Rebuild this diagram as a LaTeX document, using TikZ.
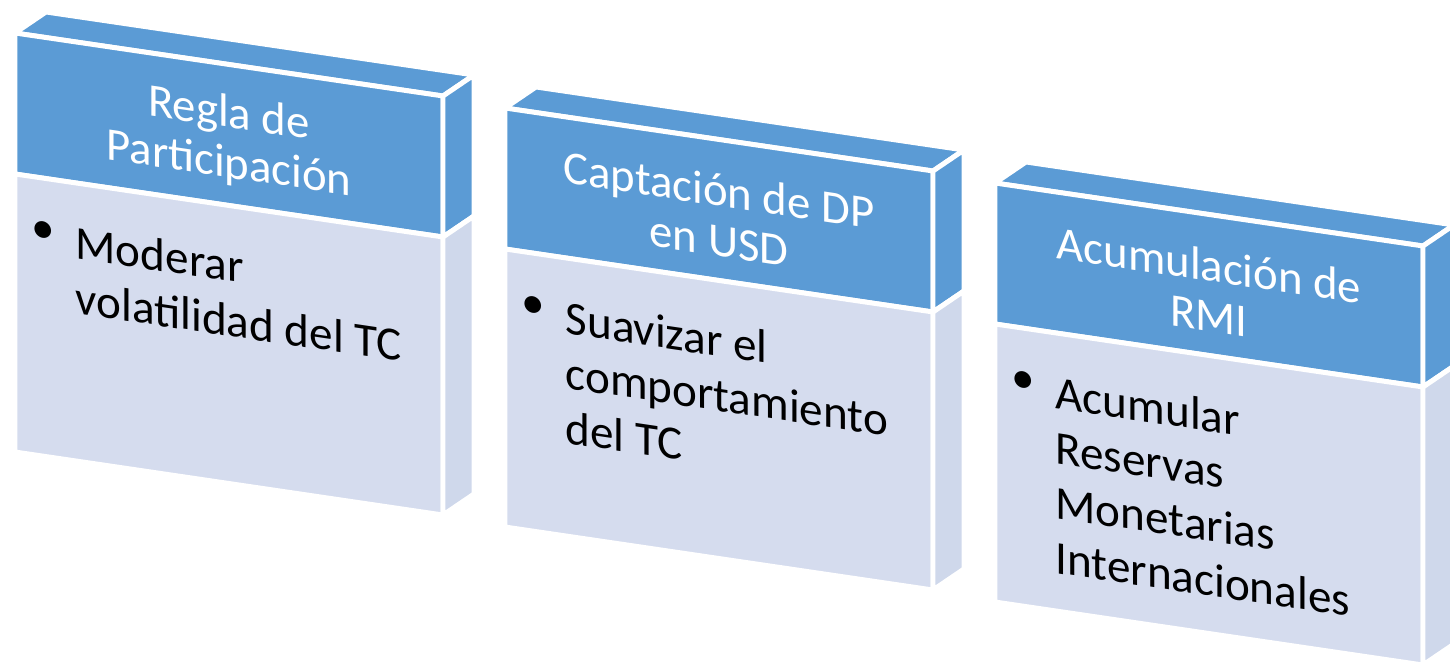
\documentclass[tikz,border=0pt]{standalone}
\usepackage{fontspec}
\setmainfont{Carlito}
\definecolor{cabecera}{HTML}{5B9BD5}
\definecolor{cuerpo}{HTML}{D5DCEE}
\definecolor{lateral}{HTML}{CFD8EB}
\tikzset{
  cara/.style={draw=white, line width=1.4pt, line join=round},
  titulo/.style={text=white, align=center, inner sep=0pt, yslant=-0.148, font=\fontsize{13.3}{14.3}\selectfont},
  vineta/.style={anchor=base, inner sep=0pt, yslant=-0.148, font=\fontsize{13.4}{15.6}\selectfont},
  texto/.style={anchor=north west, align=left, inner sep=0pt, yslant=-0.148, font=\fontsize{13.4}{15.6}\selectfont}
}
\begin{document}
\begin{tikzpicture}[x=0.01cm, y=-0.01cm]
\useasboundingbox (0,0) rectangle (1450,664);
\clip (0,0) rectangle (1450,664);

\foreach \i/\cab/\txt in {0/{Regla de\\Participación}/{Moderar\\volatilidad del TC},
  1/{Captación de DP\\en USD}/{Suavizar el\\comportamiento\\del TC},
  2/{Acumulación de\\RMI}/{Acumular\\Reservas\\Monetarias\\Internacionales}}{
\begin{scope}[shift={(15+490*\i, 33+75*\i)}]
\fill[fill=cabecera, cara] (0,0) -- (428,63) -- (459,42) -- (31,-21) -- cycle;
\fill[fill=cabecera, cara] (0,0) -- (428,63) -- (428,204) -- (0,141) -- cycle;
\fill[fill=cuerpo, cara] (0,141) -- (428,204) -- (428,482) -- (0,419) -- cycle;
\fill[fill=cabecera, cara] (428,63) -- (459,42) -- (459,183) -- (428,204) -- cycle;
\fill[fill=lateral, cara] (428,204) -- (459,183) -- (459,461) -- (428,482) -- cycle;
\node[titulo] (cab\i) at (214,107) {\cab};
\node[vineta] (bul\i) at (28,221) {\raisebox{0.22em}{\textbullet}};
\node[texto] (txt\i) at (60,192) {\txt};
\end{scope}
}
\end{tikzpicture}
\end{document}
